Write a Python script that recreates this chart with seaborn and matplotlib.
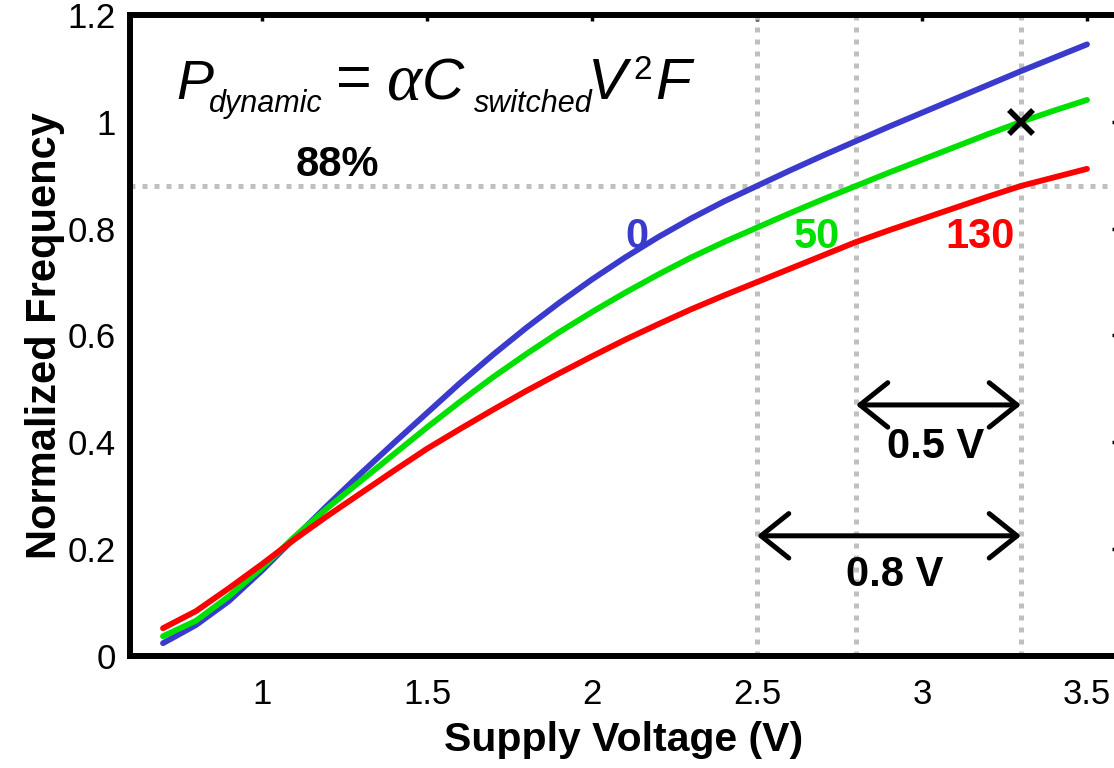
import numpy as np
import pandas as pd
import matplotlib
matplotlib.use("Agg")
import matplotlib.pyplot as plt
import seaborn as sns

# ---- data ----
voltage = [0.7, 0.8, 0.9, 1.0, 1.1, 1.2, 1.3, 1.4, 1.5, 1.6, 1.7, 1.8, 1.9, 2.0,
           2.1, 2.2, 2.3, 2.4, 2.5, 2.6, 2.7, 2.8, 2.9, 3.0, 3.1, 3.2, 3.3, 3.4, 3.5]
freq_0 = [0.024, 0.058, 0.103, 0.160, 0.222, 0.283, 0.342, 0.399, 0.455, 0.511, 0.564,
          0.614, 0.661, 0.705, 0.746, 0.784, 0.819, 0.851, 0.880, 0.909, 0.937, 0.964,
          0.991, 1.017, 1.043, 1.069, 1.095, 1.120, 1.145]
freq_50 = [0.037, 0.066, 0.112, 0.165, 0.224, 0.278, 0.328, 0.378, 0.428, 0.476, 0.522,
           0.565, 0.606, 0.644, 0.680, 0.714, 0.746, 0.775, 0.802, 0.829, 0.855, 0.880,
           0.905, 0.929, 0.953, 0.977, 1.000, 1.021, 1.041]
freq_130 = [0.052, 0.084, 0.127, 0.172, 0.219, 0.263, 0.305, 0.347, 0.388, 0.425, 0.461,
            0.496, 0.529, 0.561, 0.592, 0.621, 0.649, 0.675, 0.700, 0.725, 0.750, 0.775,
            0.797, 0.818, 0.839, 0.860, 0.880, 0.896, 0.912]
temps = ["0", "50", "130"]
colors = ["#3a3acc", "#00e000", "#ff0000"]

ref_voltages = [2.5, 2.8, 3.3]
ref_level = 0.88
marker_point = (3.3, 1.0)

xticks = [1, 1.5, 2, 2.5, 3, 3.5]
xtick_labels = ["1", "1.5", "2", "2.5", "3", "3.5"]
yticks = [0, 0.2, 0.4, 0.6, 0.8, 1.0, 1.2]
ytick_labels = ["0", "0.2", "0.4", "0.6", "0.8", "1", "1.2"]

df = pd.concat([
    pd.DataFrame({"V": voltage, "F": f, "T": t})
    for f, t in zip([freq_0, freq_50, freq_130], temps)
], ignore_index=True)

sns.set_theme(style="white")
plt.rcParams["font.family"] = ["Liberation Sans", "DejaVu Sans"]
plt.rcParams["text.color"] = "black"
plt.rcParams["axes.labelcolor"] = "black"
plt.rcParams["xtick.color"] = "black"
plt.rcParams["ytick.color"] = "black"

W, H = 1114, 768
fig = plt.figure(figsize=(W / 100, H / 100), dpi=100)
ax = fig.add_axes([130 / W, 112 / H, (1118 - 130) / W, 641 / H])

# reference dotted lines
for v in ref_voltages:
    ax.axvline(v, color="#c0c0c0", lw=3.6, ls=(0, (1, 1.4)), zorder=1)
ax.axhline(ref_level, color="#c0c0c0", lw=3.6, ls=(0, (1, 1.4)), zorder=1)

sns.lineplot(data=df, x="V", y="F", hue="T", palette=dict(zip(temps, colors)),
             linewidth=4.2, legend=False, ax=ax, zorder=3, sort=False)

ax.plot([marker_point[0]], [marker_point[1]], marker="x", color="black",
        markersize=17, mew=4, zorder=5, ls="none")

ax.set_xlim(0.6, 0.6 + 988 / 330)
ax.set_ylim(0, 1.2)
ax.set_xticks(xticks)
ax.set_xticklabels(xtick_labels)
ax.set_yticks(yticks)
ax.set_yticklabels(ytick_labels)
ax.tick_params(axis="both", direction="in", length=4, width=2.5, labelsize=25,
               top=True, right=True, colors="black")
ax.tick_params(axis="x", pad=16)
ax.tick_params(axis="y", pad=10)
for s in ax.spines.values():
    s.set_linewidth(4.3)
    s.set_color("black")

ax.set_xlabel("Supply Voltage (V)", fontsize=29.5, fontweight="bold", labelpad=7)
ax.set_ylabel("Normalized Frequency", fontsize=30, fontweight="bold", labelpad=2)

# arrows
arrow_kw = dict(arrowstyle="<->,head_length=1.0,head_width=0.8", lw=3.6,
                color="black", shrinkA=0, shrinkB=0, mutation_scale=20)
ax.annotate("", xy=(3.3, 0.47), xytext=(2.8, 0.47), arrowprops=arrow_kw)
ax.annotate("", xy=(3.3, 0.225), xytext=(2.5, 0.225), arrowprops=arrow_kw)

bold = dict(fontsize=30, fontweight="bold", ha="center", va="center")
ax.text(3.04, 0.391, "0.5 V", color="black", **bold)
ax.text(2.918, 0.152, "0.8 V", color="black", **bold)
ax.text(1.227, 0.919, "88%", color="black", **bold)
ax.text(2.136, 0.784, "0", color=colors[0], **bold)
ax.text(2.68, 0.784, "50", color=colors[1], **bold)
ax.text(3.176, 0.784, "130", color=colors[2], **bold)

# equation built from pieces (pixel placement)
def ftxt(xpx, ypx, s, size, style="italic", family=None):
    kw = dict(fontsize=size, style=style, ha="left", va="baseline", color="black")
    if family:
        kw["family"] = family
    fig.text(xpx / W, 1 - ypx / H, s, **kw)

ftxt(176, 99, "P", 40)
ftxt(209, 112, "dynamic", 22)
ftxt(336, 97, "=", 44, style="normal")
ftxt(386, 99, "α", 48, family=["Liberation Serif", "DejaVu Serif"])
ftxt(422, 99, "C", 42)
ftxt(474, 112, "switched", 22)
ftxt(588, 99, "V", 42)
ftxt(633, 79, "2", 24, style="normal")
ftxt(655, 99, "F", 42)

fig.savefig("out.png", dpi=100)
